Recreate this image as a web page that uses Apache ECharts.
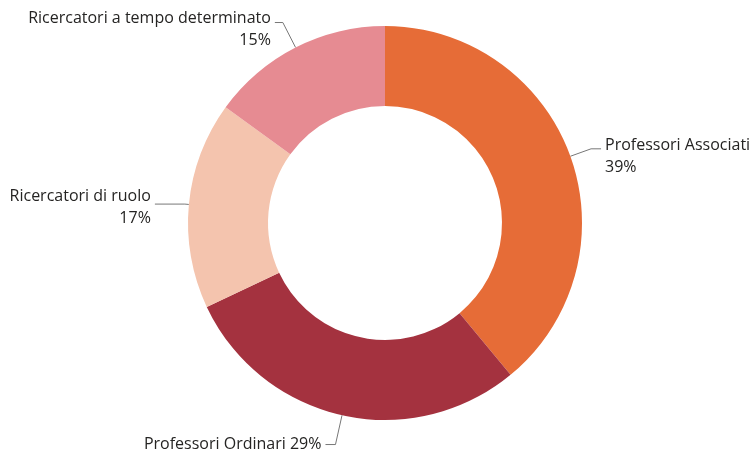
<!DOCTYPE html>
<html>
<head>
<meta charset="utf-8">
<script src="https://cdn.jsdelivr.net/npm/echarts@6/dist/echarts.min.js"></script>
<style>
  html, body { margin: 0; padding: 0; background: #fff; }
  #chart { width: 753px; height: 454px; }
</style>
</head>
<body>
<div id="chart"></div>
<script>
// dati del grafico
const categories = ['Professori Associati', 'Professori Ordinari', 'Ricercatori di ruolo', 'Ricercatori a tempo determinato']
const values = [39, 29, 17, 15]
const colors = ['#E66C37', '#A4323F', '#F4C4AE', '#E68B92']

// etichette: Ordinari su una riga, le altre su due
const oneLine = [false, true, false, false]
const lineLen = [[22, 10], [30, 10], [4, 30], [28, 8]]
// riga vuota in testa per abbassare il testo rispetto alla linea guida
const spacer = [16, 0, 6, 13]

const chart = echarts.init(document.getElementById('chart'))

const data = categories.map((name, i) => ({
  name: name,
  value: values[i],
  itemStyle: { color: colors[i] },
  labelLine: { length: lineLen[i][0], length2: lineLen[i][1] },
}))

chart.setOption({
  animation: false,
  series: [
    {
      type: 'pie',
      center: [385, 223],
      radius: [117, 197],
      startAngle: 90,
      clockwise: true,
      avoidLabelOverlap: false,
      data: data,
      label: {
        show: true,
        position: 'outside',
        overflow: 'none',
        fontFamily: 'Open Sans',
        fontSize: 16,
        lineHeight: 22,
        color: '#252423',
        distanceToLabelLine: 4,
        formatter: function (p) {
          const i = p.dataIndex
          const pct = Math.round(p.percent) + '%'
          const txt = oneLine[i] ? '{t|' + p.name + ' ' + pct + '}' : '{t|' + p.name + '}\n{t|' + pct + '}'
          return spacer[i] ? '{s' + spacer[i] + '| }\n' + txt : txt
        },
        rich: {
          t: { fontFamily: 'Open Sans', fontSize: 16, lineHeight: 22, color: '#252423' },
          s6: { fontSize: 4, lineHeight: 6 },
          s13: { fontSize: 4, lineHeight: 13 },
          s16: { fontSize: 4, lineHeight: 16 },
        },
      },
      labelLine: {
        show: true,
        smooth: false,
        lineStyle: { color: '#777', width: 1 },
      },
    },
  ],
})
</script>
</body>
</html>
